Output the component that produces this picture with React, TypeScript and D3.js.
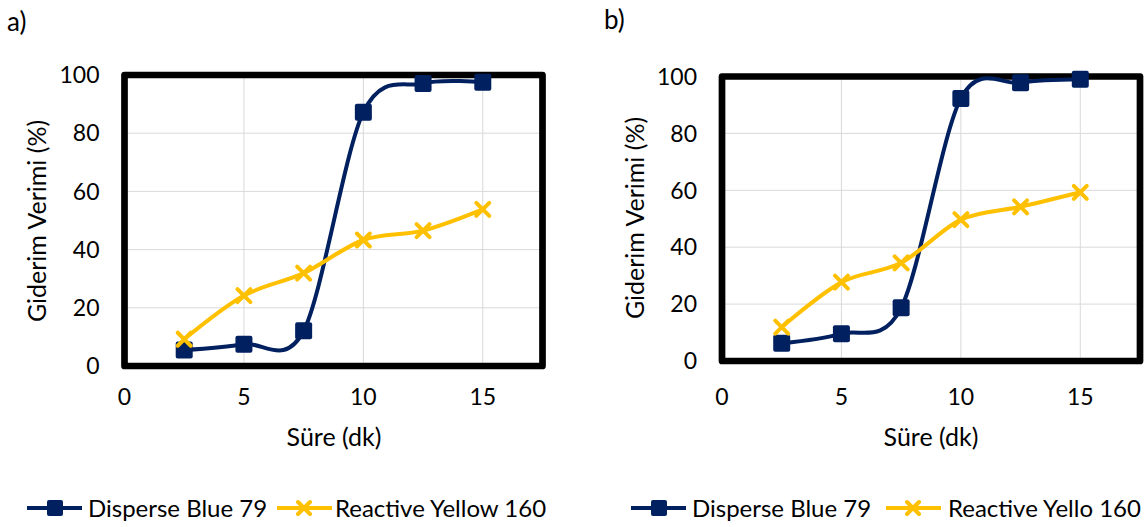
import React from "react";
import * as d3 from "d3";

const times = [2.5, 5, 7.5, 10, 12.5, 15];
const blueA = [5.5, 7.5, 12.1, 87.2, 97.1, 97.5];
const yellowA = [9.2, 24.2, 31.9, 43.3, 46.5, 53.8];
const blueB = [6.2, 9.6, 18.7, 92.3, 97.8, 99];
const yellowB = [11.9, 27.7, 34.5, 49.7, 54.2, 59.3];
const xTicks = [0, 5, 10, 15];
const yTicks = [0, 20, 40, 60, 80, 100];

const BLUE = "#002060";
const YELLOW = "#FFC000";
const FONT = "Lato, 'Open Sans', sans-serif";

const Xmark = ({ x, y, s = 6.5 }) => (
  <path
    d={`M${x - s},${y - s}L${x + s},${y + s}M${x - s},${y + s}L${x + s},${y - s}`}
    stroke={YELLOW}
    strokeWidth={4}
    strokeLinecap="round"
  />
);

const Square = ({ x, y, s = 8.5 }) => (
  <rect x={x - s} y={y - s} width={s * 2} height={s * 2} rx={2} fill={BLUE} />
);

const Panel = ({ left, right, top, bottom, label, labelX, labelY, titleX, titleY, xTitleX, blue, yellow }) => {
  const x = d3.scaleLinear().domain([0, 17.5]).range([left, right]);
  const y = d3.scaleLinear().domain([0, 100]).range([bottom, top]);
  const line = d3
    .line<number>()
    .x((d, i) => x(times[i]))
    .y((d) => y(d))
    .curve(d3.curveCardinal.tension(0.05));

  return (
    <g fontFamily={FONT} fill="#000">
      <text x={labelX} y={labelY} fontSize={26}>{label}</text>
      {/* grid */}
      {yTicks.slice(1, -1).map((t) => (
        <line key={"gy" + t} x1={left} x2={right} y1={y(t)} y2={y(t)} stroke="#d9d9d9" strokeWidth={1} />
      ))}
      {xTicks.slice(1).map((t) => (
        <line key={"gx" + t} x1={x(t)} x2={x(t)} y1={top} y2={bottom} stroke="#d9d9d9" strokeWidth={1} />
      ))}
      <rect
        x={left}
        y={top}
        width={right - left}
        height={bottom - top}
        fill="none"
        stroke="#000"
        strokeWidth={6.7}
        strokeLinejoin="round"
      />
      {yTicks.map((t) => (
        <text key={"yt" + t} x={left - 25} y={y(t)} dy="0.36em" textAnchor="end" fontSize={23}>
          {t}
        </text>
      ))}
      {xTicks.map((t) => (
        <text key={"xt" + t} x={x(t)} y={397} dy="0.36em" textAnchor="middle" fontSize={23}>
          {t}
        </text>
      ))}
      <text x={xTitleX} y={437} dy="0.36em" textAnchor="middle" fontSize={25}>
        Süre (dk)
      </text>
      <text
        transform={`translate(${titleX},${titleY}) rotate(-90)`}
        dy="0.36em"
        textAnchor="middle"
        fontSize={25}
      >
        Giderim Verimi (%)
      </text>
      <path d={line(blue) ?? ""} fill="none" stroke={BLUE} strokeWidth={4} />
      <path d={line(yellow) ?? ""} fill="none" stroke={YELLOW} strokeWidth={4} />
      {blue.map((d, i) => (
        <Square key={"b" + i} x={x(times[i])} y={y(d)} />
      ))}
      {yellow.map((d, i) => (
        <Xmark key={"y" + i} x={x(times[i])} y={y(d)} />
      ))}
    </g>
  );
};

const Legend = ({ x1, tx1, x2, tx2, name2 }) => (
  <g fontFamily={FONT} fontSize={24}>
    <line x1={x1} x2={x1 + 55} y1={508} y2={508} stroke={BLUE} strokeWidth={4} />
    <Square x={x1 + 28} y={508} s={8} />
    <text x={tx1} y={508} dy="0.36em">Disperse Blue 79</text>
    <line x1={x2} x2={x2 + 55} y1={508} y2={508} stroke={YELLOW} strokeWidth={4} />
    <Xmark x={x2 + 27} y={508} s={6} />
    <text x={tx2} y={508} dy="0.36em">{name2}</text>
  </g>
);

export default function App() {
  return (
    <svg
      width={1148}
      height={527}
      style={{ position: "absolute", left: 0, top: 0, background: "#fff" }}
    >
      <Panel
        left={124.5} right={542.5} top={75} bottom={366}
        label="a)" labelX={7} labelY={31} titleX={37} titleY={221} xTitleX={334}
        blue={blueA} yellow={yellowA}
      />
      <Panel
        left={722} right={1140} top={76.5} bottom={361}
        label="b)" labelX={604} labelY={29} titleX={635} titleY={218} xTitleX={931}
        blue={blueB} yellow={yellowB}
      />
      <Legend x1={27} tx1={88} x2={277} tx2={335} name2="Reactive Yellow 160" />
      <Legend x1={631} tx1={692} x2={886} tx2={948} name2="Reactive Yello 160" />
    </svg>
  );
}
